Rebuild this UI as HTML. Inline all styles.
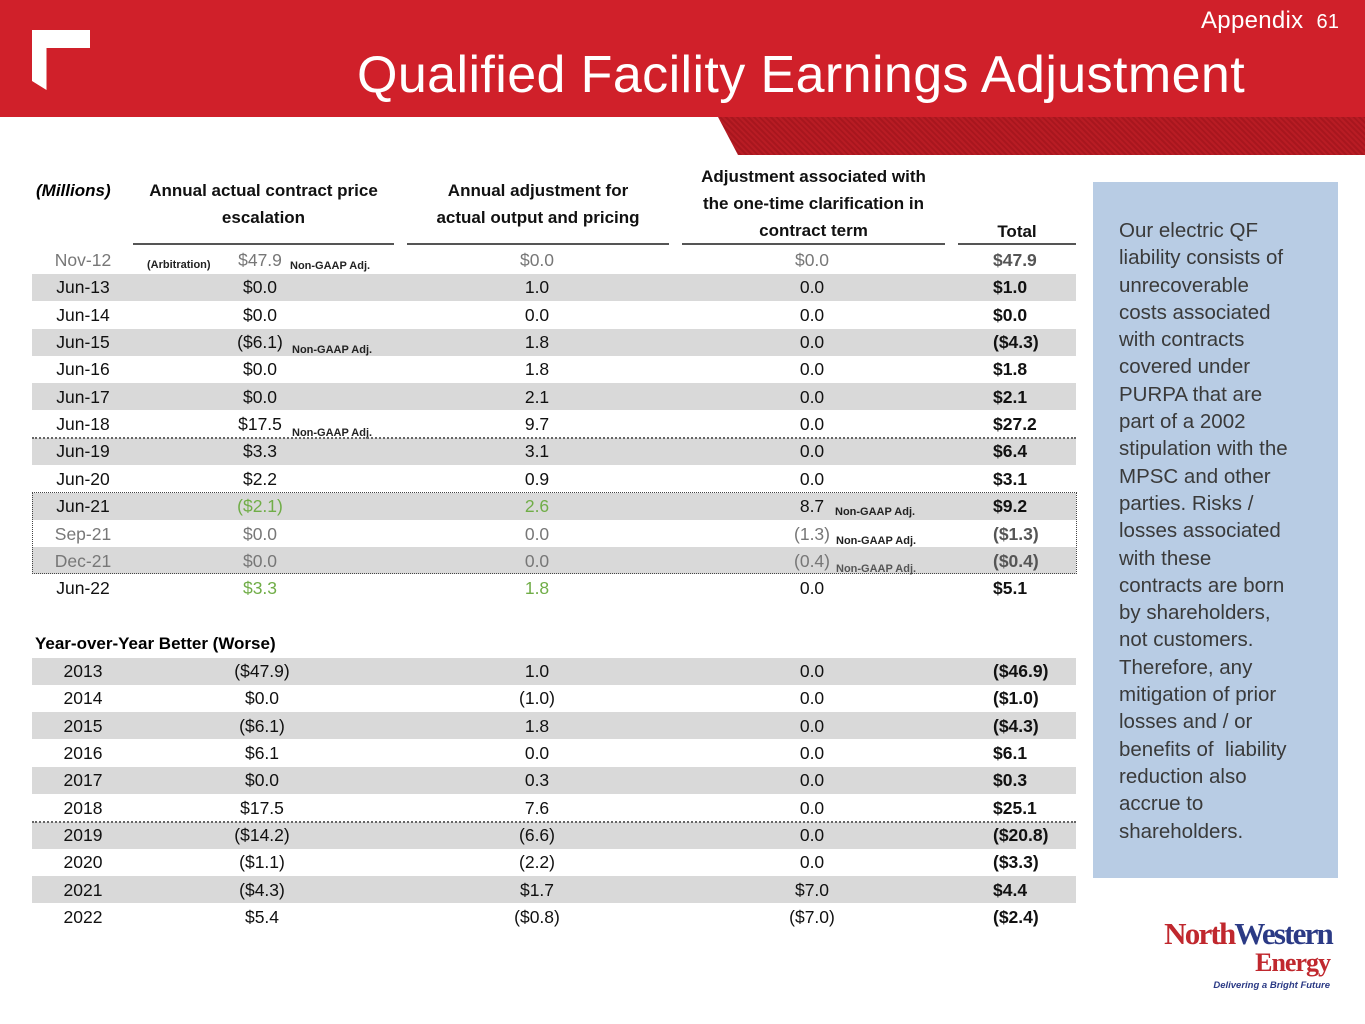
<!DOCTYPE html>
<html><head><meta charset="utf-8">
<style>
*{margin:0;padding:0;box-sizing:border-box}
body{width:1365px;height:1024px;position:relative;background:#fff;font-family:"Liberation Sans",Arial,sans-serif;overflow:hidden}
.abs{position:absolute}
.cell{position:absolute;font-size:17.5px;color:#111;white-space:nowrap;line-height:20px}
.c{transform:translateX(-50%)}
.note{font-size:11px;font-weight:bold;color:#222}
.hd{position:absolute;font-weight:bold;font-size:17px;color:#111;text-align:center;line-height:27px}
</style></head>
<body>
<div class="abs" style="left:0;top:0;width:1365px;height:117px;background:#d0202a"></div>
<div class="abs" style="left:700px;top:117px;width:665px;height:38px;background:repeating-linear-gradient(45deg,#a8161e 0 2px,#b81c24 2px 4px);clip-path:polygon(18px 0,100% 0,100% 100%,38px 100%)"></div>
<div class="abs" style="left:32px;top:30px;width:58px;height:60px;background:#fff;clip-path:polygon(0 0,100% 0,100% 30%,25% 30%,25% 100%,0 85%)"></div>
<div class="abs" style="left:1201px;top:7px;color:#fff;font-size:24px;letter-spacing:0.3px">Appendix <span style="font-size:20px;margin-left:6px">61</span></div>
<div class="abs" style="left:357px;top:44px;color:#fff;font-size:52px;line-height:62px;letter-spacing:0.4px">Qualified Facility Earnings Adjustment</div>

<div id="tbl"></div>

<div class="abs" style="left:36px;top:177px;font-weight:bold;font-style:italic;font-size:17px;line-height:27px">(Millions)</div>
<div class="hd" style="left:133px;top:177px;width:261px">Annual actual contract price<br>escalation</div>
<div class="hd" style="left:407px;top:177px;width:262px">Annual adjustment for<br>actual output and pricing</div>
<div class="hd" style="left:682px;top:163px;width:263px">Adjustment associated with<br>the one-time clarification in<br>contract term</div>
<div class="hd" style="left:958px;top:218px;width:118px">Total</div>
<div class="abs" style="left:133px;top:243px;width:261px;height:2px;background:#555"></div>
<div class="abs" style="left:407px;top:243px;width:262px;height:2px;background:#555"></div>
<div class="abs" style="left:682px;top:243px;width:263px;height:2px;background:#555"></div>
<div class="abs" style="left:958px;top:243px;width:118px;height:2px;background:#555"></div>
<div class="abs" style="left:35px;top:633px;font-weight:bold;font-size:17px;line-height:22px">Year-over-Year Better (Worse)</div>

<div class="abs" style="left:1093px;top:182px;width:245px;height:696px;background:#b8cce4;padding:35px 0 0 26px;font-size:20.5px;line-height:27.3px;color:#3a3a3a;white-space:nowrap">Our electric QF<br>liability consists of<br>unrecoverable<br>costs associated<br>with contracts<br>covered under<br>PURPA that are<br>part of a 2002<br>stipulation with the<br>MPSC and other<br>parties. Risks /<br>losses associated<br>with these<br>contracts are born<br>by shareholders,<br>not customers.<br>Therefore, any<br>mitigation of prior<br>losses and / or<br>benefits of &nbsp;liability<br>reduction also<br>accrue to<br>shareholders.</div>

<div class="abs" style="left:1136px;top:918px;width:200px">
<div style="font-family:'Liberation Serif',serif;font-weight:bold;font-size:31px;letter-spacing:-1.8px;line-height:32px;text-align:right;padding-right:4px"><span style="color:#c0282e">North</span><span style="color:#2b3a85">Western</span></div>
<div style="font-family:'Liberation Serif',serif;font-weight:bold;font-size:26px;color:#c0282e;text-align:right;padding-right:6px;line-height:26px;letter-spacing:-1px">Energy</div>
<div style="font-size:9.5px;font-weight:bold;font-style:italic;color:#2b3a85;text-align:right;padding-right:6px;margin-top:4px">Delivering a Bright Future</div>
</div>

<script>
const periods=["Nov-12","Jun-13","Jun-14","Jun-15","Jun-16","Jun-17","Jun-18","Jun-19","Jun-20","Jun-21","Sep-21","Dec-21","Jun-22"];
const escalation=["$47.9","$0.0","$0.0","($6.1)","$0.0","$0.0","$17.5","$3.3","$2.2","($2.1)","$0.0","$0.0","$3.3"];
const outputAdj=["$0.0","1.0","0.0","1.8","1.8","2.1","9.7","3.1","0.9","2.6","0.0","0.0","1.8"];
const clarification=["$0.0","0.0","0.0","0.0","0.0","0.0","0.0","0.0","0.0","8.7","(1.3)","(0.4)","0.0"];
const totals=["$47.9","$1.0","$0.0","($4.3)","$1.8","$2.1","$27.2","$6.4","$3.1","$9.2","($1.3)","($0.4)","$5.1"];
const years=["2013","2014","2015","2016","2017","2018","2019","2020","2021","2022"];
const yoyEscalation=["($47.9)","$0.0","($6.1)","$6.1","$0.0","$17.5","($14.2)","($1.1)","($4.3)","$5.4"];
const yoyOutput=["1.0","(1.0)","1.8","0.0","0.3","7.6","(6.6)","(2.2)","$1.7","($0.8)"];
const yoyClarification=["0.0","0.0","0.0","0.0","0.0","0.0","0.0","0.0","$7.0","($7.0)"];
const yoyTotals=["($46.9)","($1.0)","($4.3)","$6.1","$0.3","$25.1","($20.8)","($3.3)","$4.4","($2.4)"];

const T=document.getElementById('tbl');
const RH=27.35;
function rowY(i,base){return base+i*RH;}
function cell(txt,x,y,opts){
  const d=document.createElement('div');
  d.className='cell'+(opts.center?' c':'');
  d.textContent=txt;
  d.style.left=x+'px';d.style.top=(y-10)+'px';
  if(opts.color)d.style.color=opts.color;
  if(opts.bold)d.style.fontWeight='bold';
  
  
  T.appendChild(d);return d;
}
function band(y,x0,name){
  const b=document.createElement('div');
  b.className='abs';
  b.style.cssText='left:'+x0+'px;top:'+(y-13.5)+'px;width:'+(1076-x0)+'px;height:27px;background:#d9d9d9';
  
  
  T.appendChild(b);
}
function note(txt,x,y,name,color){
  const n=document.createElement('div');
  n.className='cell note';n.textContent=txt;
  n.style.left=x+'px';n.style.top=(y-7)+'px';
  if(color)n.style.color=color;
  
  
  T.appendChild(n);
}
const grey='#777', green='#70ad47';
periods.forEach((p,i)=>{
  const y=rowY(i,260);
  if(i%2===1)band(y,32,'row-band-'+p);
  let g=(i===0||i===10||i===11);
  let c1=g?grey:(i===9||i===12?green:null);
  let c2=g?grey:(i===9||i===12?green:null);
  cell(p,83,y,{center:1,color:g?grey:null,name:'period-'+p});
  cell(escalation[i],260,y,{center:1,color:c1,name:'escalation-'+p});
  cell(outputAdj[i],537,y,{center:1,color:c2,name:'output-adj-'+p});
  cell(clarification[i],812,y,{center:1,color:g?grey:null,name:'clarification-'+p});
  cell(totals[i],993,y,{bold:1,color:g?'#555':null,name:'total-'+p});
});
note('(Arbitration)',147,262,'arbitration-note');
note('Non-GAAP Adj.',290,263,'non-gaap-nov12');
note('Non-GAAP Adj.',292,347,'non-gaap-jun15');
note('Non-GAAP Adj.',292,430,'non-gaap-jun18');
note('Non-GAAP Adj.',835,509,'non-gaap-jun21');
note('Non-GAAP Adj.',836,538,'non-gaap-sep21');
note('Non-GAAP Adj.',836,566,'non-gaap-dec21','#555');
years.forEach((yr,i)=>{
  const y=rowY(i,671);
  if(i%2===0)band(y,32,'yoy-band-'+yr);
  cell(yr,83,y,{center:1,name:'year-'+yr});
  cell(yoyEscalation[i],262,y,{center:1,name:'yoy-escalation-'+yr});
  cell(yoyOutput[i],537,y,{center:1,name:'yoy-output-'+yr});
  cell(yoyClarification[i],812,y,{center:1,name:'yoy-clarification-'+yr});
  cell(yoyTotals[i],993,y,{bold:1,name:'yoy-total-'+yr});
});
[[437,'dotted-rule-2018'],[821,'dotted-rule-yoy-2018']].forEach(a=>{
  const l=document.createElement('div');l.className='abs';
  l.style.cssText='left:32px;top:'+a[0]+'px;width:1044px;border-top:2px dotted #666';
  
  
  T.appendChild(l);
});
const bx=document.createElement('div');bx.className='abs';
bx.style.cssText='left:32px;top:492px;width:1045px;height:82px;border:1px dotted #444';


T.appendChild(bx);
</script>
</body></html>
